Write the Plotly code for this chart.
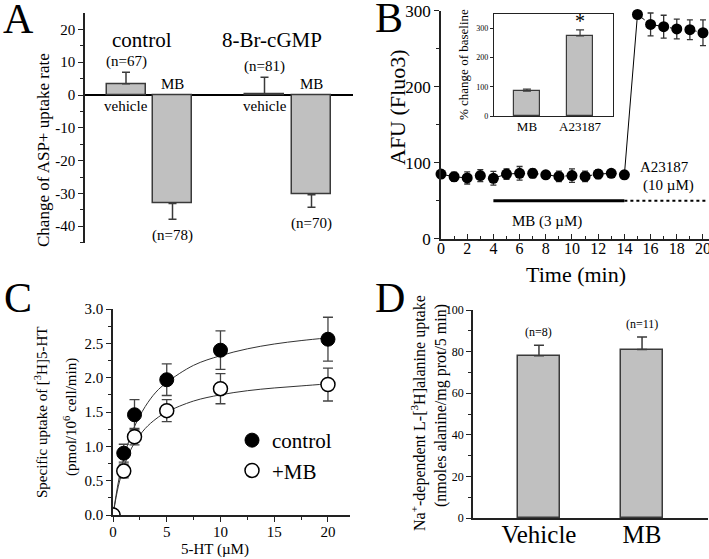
import plotly.graph_objects as go

W, H = 709, 559
FONT = "Liberation Serif, Times New Roman, Times, serif"

# ---------------- data ----------------
# Panel A
a_labels = ["control vehicle", "control MB", "8-Br-cGMP vehicle", "8-Br-cGMP MB"]
a_values = [3.4, -33.1, 0.3, -30.4]
a_errors = [3.5, 4.8, 5.1, 3.8]
a_n = ["(n=67)", "(n=78)", "(n=81)", "(n=70)"]
a_bar_names = ["vehicle", "MB", "vehicle", "MB"]
a_groups = ["control", "8-Br-cGMP"]
a_ticks = [20, 10, 0, -10, -20, -30, -40]

# Panel B
b_time = list(range(0, 21))
b_afu = [85, 81.5, 80, 83, 79.5, 85, 86, 86, 84, 82, 83, 82, 85, 86, 84,
         295, 282, 279, 276, 275, 271]
b_err = [5, 6, 8, 8, 9, 7, 9, 6, 3, 7, 9, 7, 6, 4, 5,
         0, 15, 15, 13, 13, 17]
b_mb_period = [4, 14]
b_a23187_period = [14, 20.4]
b_period_level = [50, 50]

# Panel B inset
inset_cats = ["MB", "A23187"]
inset_vals = [85, 274]
inset_errs = [7, 21]

# Panel C
c_conc = [0, 1, 2, 5, 10, 20]
c_control = [0, 0.90, 1.46, 1.97, 2.40, 2.56]
c_control_err = [0, 0.13, 0.22, 0.23, 0.28, 0.32]
c_mb = [0, 0.64, 1.14, 1.52, 1.84, 1.90]
c_mb_err = [0, 0.10, 0.12, 0.16, 0.22, 0.24]
c_fit_x = [0, 0.5, 1, 1.5, 2, 3, 4, 5, 7.5, 10, 12.5, 15, 17.5, 20]
c_fit_control = [0, 0.48, 0.83, 1.09, 1.29, 1.58, 1.79, 1.93, 2.18, 2.32, 2.42, 2.49, 2.54, 2.58]
c_fit_mb = [0, 0.42, 0.70, 0.90, 1.05, 1.26, 1.40, 1.50, 1.66, 1.75, 1.81, 1.85, 1.88, 1.91]

# Panel D
d_cats = ["Vehicle", "MB"]
d_vals = [78, 81]
d_errs = [5, 6]
d_n = ["(n=8)", "(n=11)"]

# ---------------- styles ----------------
BAR_FILL = "#c0c0c0"
BAR_LINE = "#3a3a3a"
AX = "#222222"


def px_x(p):
    return p / W


def px_y(p):
    return 1 - p / H


fig = go.Figure()

# ---------- Panel A ----------
a_pos = [126, 172.5, 264.5, 311.5]  # pixel centres within axis (85..353)
a_x = [(p - 85) / (353 - 85) for p in a_pos]
a_w = 39 / (353 - 85)
fig.add_trace(go.Bar(
    x=a_x, y=a_values, width=[a_w] * 4,
    marker=dict(color=BAR_FILL, line=dict(color=BAR_LINE, width=1.5)),
    error_y=dict(type="data", symmetric=False,
                 array=[e if v >= 0 else 0 for v, e in zip(a_values, a_errors)],
                 arrayminus=[e if v < 0 else 0 for v, e in zip(a_values, a_errors)],
                 color=BAR_LINE, thickness=1.5, width=4),
    xaxis="x", yaxis="y", showlegend=False))

# ---------- Panel B ----------
fig.add_trace(go.Scatter(
    x=b_time[:15], y=b_afu[:15], mode="lines+markers",
    line=dict(color="black", width=1, dash="dash"),
    marker=dict(color="black", size=11),
    error_y=dict(type="data", array=b_err[:15], color="#333", thickness=1.3, width=3),
    cliponaxis=False, xaxis="x2", yaxis="y2", showlegend=False))
fig.add_trace(go.Scatter(
    x=b_time[14:16], y=b_afu[14:16], mode="lines",
    line=dict(color="black", width=1),
    xaxis="x2", yaxis="y2", showlegend=False, cliponaxis=False))
fig.add_trace(go.Scatter(
    x=b_time[15:], y=b_afu[15:], mode="lines+markers",
    line=dict(color="black", width=1, dash="dash"),
    marker=dict(color="black", size=11),
    error_y=dict(type="data", array=b_err[15:], color="#333", thickness=1.3, width=3),
    cliponaxis=False, xaxis="x2", yaxis="y2", showlegend=False))
fig.add_trace(go.Scatter(
    x=b_mb_period, y=b_period_level, mode="lines",
    line=dict(color="black", width=3),
    xaxis="x2", yaxis="y2", showlegend=False))
fig.add_trace(go.Scatter(
    x=b_a23187_period, y=b_period_level, mode="lines",
    line=dict(color="black", width=2, dash="dot"),
    xaxis="x2", yaxis="y2", showlegend=False))

# inset
fig.add_trace(go.Bar(
    x=inset_cats, y=inset_vals, width=0.49,
    marker=dict(color=BAR_FILL, line=dict(color=BAR_LINE, width=1.2)),
    error_y=dict(type="data", symmetric=False, array=inset_errs,
                 arrayminus=[0, 0], color=BAR_LINE, thickness=1.2, width=4),
    xaxis="x3", yaxis="y3", showlegend=False))

# ---------- Panel C ----------
fig.add_trace(go.Scatter(
    x=c_fit_x, y=c_fit_control, mode="lines", line=dict(color="#333", width=1, shape="spline"),
    xaxis="x4", yaxis="y4", showlegend=False, hoverinfo="skip"))
fig.add_trace(go.Scatter(
    x=c_fit_x, y=c_fit_mb, mode="lines", line=dict(color="#333", width=1, shape="spline"),
    xaxis="x4", yaxis="y4", showlegend=False, hoverinfo="skip"))
fig.add_trace(go.Scatter(
    x=c_conc, y=c_control, mode="markers", name="control",
    marker=dict(color="black", size=14, line=dict(color="black", width=1)),
    error_y=dict(type="data", array=c_control_err, color="#444", thickness=1.3, width=5),
    xaxis="x4", yaxis="y4", showlegend=True))
fig.add_trace(go.Scatter(
    x=c_conc, y=c_mb, mode="markers", name="+MB",
    marker=dict(color="white", size=14, line=dict(color="black", width=1.5)),
    error_y=dict(type="data", array=c_mb_err, color="#444", thickness=1.3, width=5),
    xaxis="x4", yaxis="y4", showlegend=True))

# ---------- Panel D ----------
fig.add_trace(go.Bar(
    x=d_cats, y=d_vals, width=0.41,
    marker=dict(color=BAR_FILL, line=dict(color=BAR_LINE, width=1.5)),
    error_y=dict(type="data", symmetric=False, array=d_errs, arrayminus=[0, 0],
                 color=BAR_LINE, thickness=1.5, width=5),
    xaxis="x5", yaxis="y5", showlegend=False))

tickfont = dict(family=FONT, size=15, color="black")
common_y = dict(showline=True, linecolor=AX, linewidth=1.5, ticks="outside",
                ticklen=5, tickwidth=1.2, tickcolor=AX, showgrid=False, zeroline=False,
                automargin=False)

fig.update_layout(
    width=W, height=H, margin=dict(l=0, r=0, t=0, b=0, pad=0, autoexpand=False),
    paper_bgcolor="white", plot_bgcolor="rgba(0,0,0,0)",
    font=dict(family=FONT, color="black"),
    bargap=0,
    # A
    xaxis=dict(domain=[px_x(85), px_x(353)], range=[0, 1], visible=False, anchor="y",
               automargin=False),
    yaxis=dict(domain=[px_y(243.3), px_y(13.3)], range=[-45.2, 24.9], anchor="x",
               tickvals=a_ticks, ticktext=[str(t) for t in a_ticks], tickfont=tickfont,
               minor=dict(ticks="outside", ticklen=3, dtick=5, tickcolor=AX),
               zeroline=True, zerolinecolor="black", zerolinewidth=1.5,
               showline=True, linecolor=AX, linewidth=1.5, ticks="outside",
               ticklen=5, tickwidth=1.2, tickcolor=AX, showgrid=False, automargin=False),
    # B
    xaxis2=dict(domain=[px_x(441), 1.0], range=[0, 20.46], anchor="y2",
                showline=True, linecolor=AX, linewidth=1.5, ticks="inside",
                ticklen=5, tickcolor=AX, dtick=2, tickfont=dict(family=FONT, size=16),
                minor=dict(ticks="inside", ticklen=3, dtick=1, tickcolor=AX),
                ticklabelstandoff=-6,
                ticklabeloverflow="allow", automargin=False,
                showgrid=False, zeroline=False),
    yaxis2=dict(domain=[px_y(238.7), px_y(10.7)], range=[0, 300], anchor="x2",
                dtick=100, tickfont=dict(family=FONT, size=17),
                minor=dict(ticks="outside", ticklen=3, dtick=50, tickcolor=AX),
                **common_y),
    # inset
    xaxis3=dict(domain=[px_x(494), px_x(613)], range=[-0.62, 1.62], anchor="y3",
                type="category", showline=True, mirror=True, linecolor=AX, linewidth=1.2,
                ticks="", tickfont=dict(family=FONT, size=13), showgrid=False,
                ticklabelstandoff=-2, automargin=False),
    yaxis3=dict(domain=[px_y(116), px_y(14)], range=[0, 349], anchor="x3",
                showline=True, mirror=True, linecolor=AX, linewidth=1.2,
                ticks="outside", ticklen=3, tickcolor=AX, dtick=100,
                tickfont=dict(family=FONT, size=8), showgrid=False, zeroline=False,
                automargin=False),
    # C
    xaxis4=dict(domain=[px_x(113), px_x(350)], range=[0, 22.05], anchor="y4",
                showline=True, linecolor=AX, linewidth=1.5, ticks="outside",
                ticklen=5, tickcolor=AX, dtick=5, tickfont=tickfont,
                minor=dict(ticks="outside", ticklen=3, dtick=2.5, tickcolor=AX),
                ticklabelstandoff=-3,
                showgrid=False, zeroline=False, automargin=False),
    yaxis4=dict(domain=[px_y(515), px_y(309)], range=[0, 3.0], anchor="x4",
                dtick=0.5, tickformat=".1f", tickfont=tickfont,
                minor=dict(ticks="outside", ticklen=3, dtick=0.25, tickcolor=AX),
                **common_y),
    # D
    xaxis5=dict(domain=[px_x(473), px_x(708)], range=[-0.64, 1.64], anchor="y5",
                type="category", showline=True, linecolor=AX, linewidth=1.5,
                ticks="", tickfont=dict(family=FONT, size=25), showgrid=False,
                ticklabelstandoff=-7, automargin=False),
    yaxis5=dict(domain=[px_y(518), px_y(310)], range=[0, 100], anchor="x5",
                dtick=20, tickfont=dict(family=FONT, size=12),
                minor=dict(ticks="outside", ticklen=3, dtick=10, tickcolor=AX),
                **common_y),
    legend=dict(x=px_x(232), y=px_y(420), xanchor="left", yanchor="top",
                font=dict(family=FONT, size=21), bgcolor="rgba(0,0,0,0)",
                itemwidth=30, tracegroupgap=0),
)

ann = []


def txt(text, x, y, size, **kw):
    d = dict(text=text, x=x, y=y, xref="paper", yref="paper", showarrow=False,
             font=dict(family=FONT, size=size, color="black"),
             xanchor="center", yanchor="middle")
    d.update(kw)
    ann.append(d)


# panel letters
txt("A", px_x(18), px_y(19), 42)
txt("B", px_x(389), px_y(18), 42)
txt("C", px_x(18), px_y(298), 42)
txt("D", px_x(390), px_y(298), 42)

# Panel A text
txt(a_groups[0], px_x(142), px_y(40), 21)
txt(a_groups[1], px_x(272), px_y(40), 21)
for i in range(4):
    v, e = a_values[i], a_errors[i]
    if v >= 0:
        ann.append(dict(text=a_n[i], x=a_x[i], y=v + e, xref="x", yref="y",
                        showarrow=False, yanchor="bottom", yshift=0,
                        font=dict(family=FONT, size=15)))
        ann.append(dict(text=a_bar_names[i], x=a_x[i], y=0, xref="x", yref="y",
                        showarrow=False, yanchor="top", yshift=-1,
                        font=dict(family=FONT, size=15)))
    else:
        ann.append(dict(text=a_n[i], x=a_x[i], y=v - e, xref="x", yref="y",
                        showarrow=False, yanchor="top", yshift=-6,
                        font=dict(family=FONT, size=15)))
        ann.append(dict(text=a_bar_names[i], x=a_x[i], y=0, xref="x", yref="y",
                        showarrow=False, yanchor="bottom", yshift=1,
                        font=dict(family=FONT, size=15)))
txt("Change of ASP+ uptake rate", px_x(43), px_y(150), 17, textangle=-90)

# Panel B text
txt("AFU (Fluo3)", px_x(397), px_y(107), 22, textangle=-90)
txt("Time (min)", px_x(576), px_y(274), 22)
txt("A23187", px_x(664), px_y(167), 15)
txt("(10 \u00b5M)", px_x(668), px_y(186), 15)
txt("MB (3 \u00b5M)", px_x(547), px_y(222), 15)
txt("% change of baseline", px_x(464), px_y(65), 13, textangle=-90)
ann.append(dict(text="*", x=inset_cats[1], y=inset_vals[1] + inset_errs[1],
                xref="x3", yref="y3", showarrow=False, yanchor="bottom", yshift=-4,
                font=dict(family=FONT, size=20)))

# Panel C text
txt("Specific uptake of [<sup>3</sup>H]5-HT", px_x(41), px_y(413), 15, textangle=-90)
txt("(pmol/10<sup>6</sup> cell/min)", px_x(70), px_y(417), 15, textangle=-90)
txt("5-HT (\u00b5M)", px_x(215), px_y(549), 15)

# Panel D text
txt("Na<sup>+</sup>-dependent L-[<sup>3</sup>H]alanine uptake", px_x(418), px_y(413), 16, textangle=-90)
txt("(nmoles alanine/mg prot/5 min)", px_x(441), px_y(406), 16, textangle=-90)
for i in range(2):
    ann.append(dict(text=d_n[i], x=d_cats[i], y=d_vals[i] + d_errs[i], xref="x5", yref="y5",
                    showarrow=False, yanchor="bottom", yshift=4,
                    font=dict(family=FONT, size=12)))

fig.update_layout(annotations=ann)
fig.write_html("out.html", config={"displayModeBar": False},
               post_script="document.body.style.margin='0';")
